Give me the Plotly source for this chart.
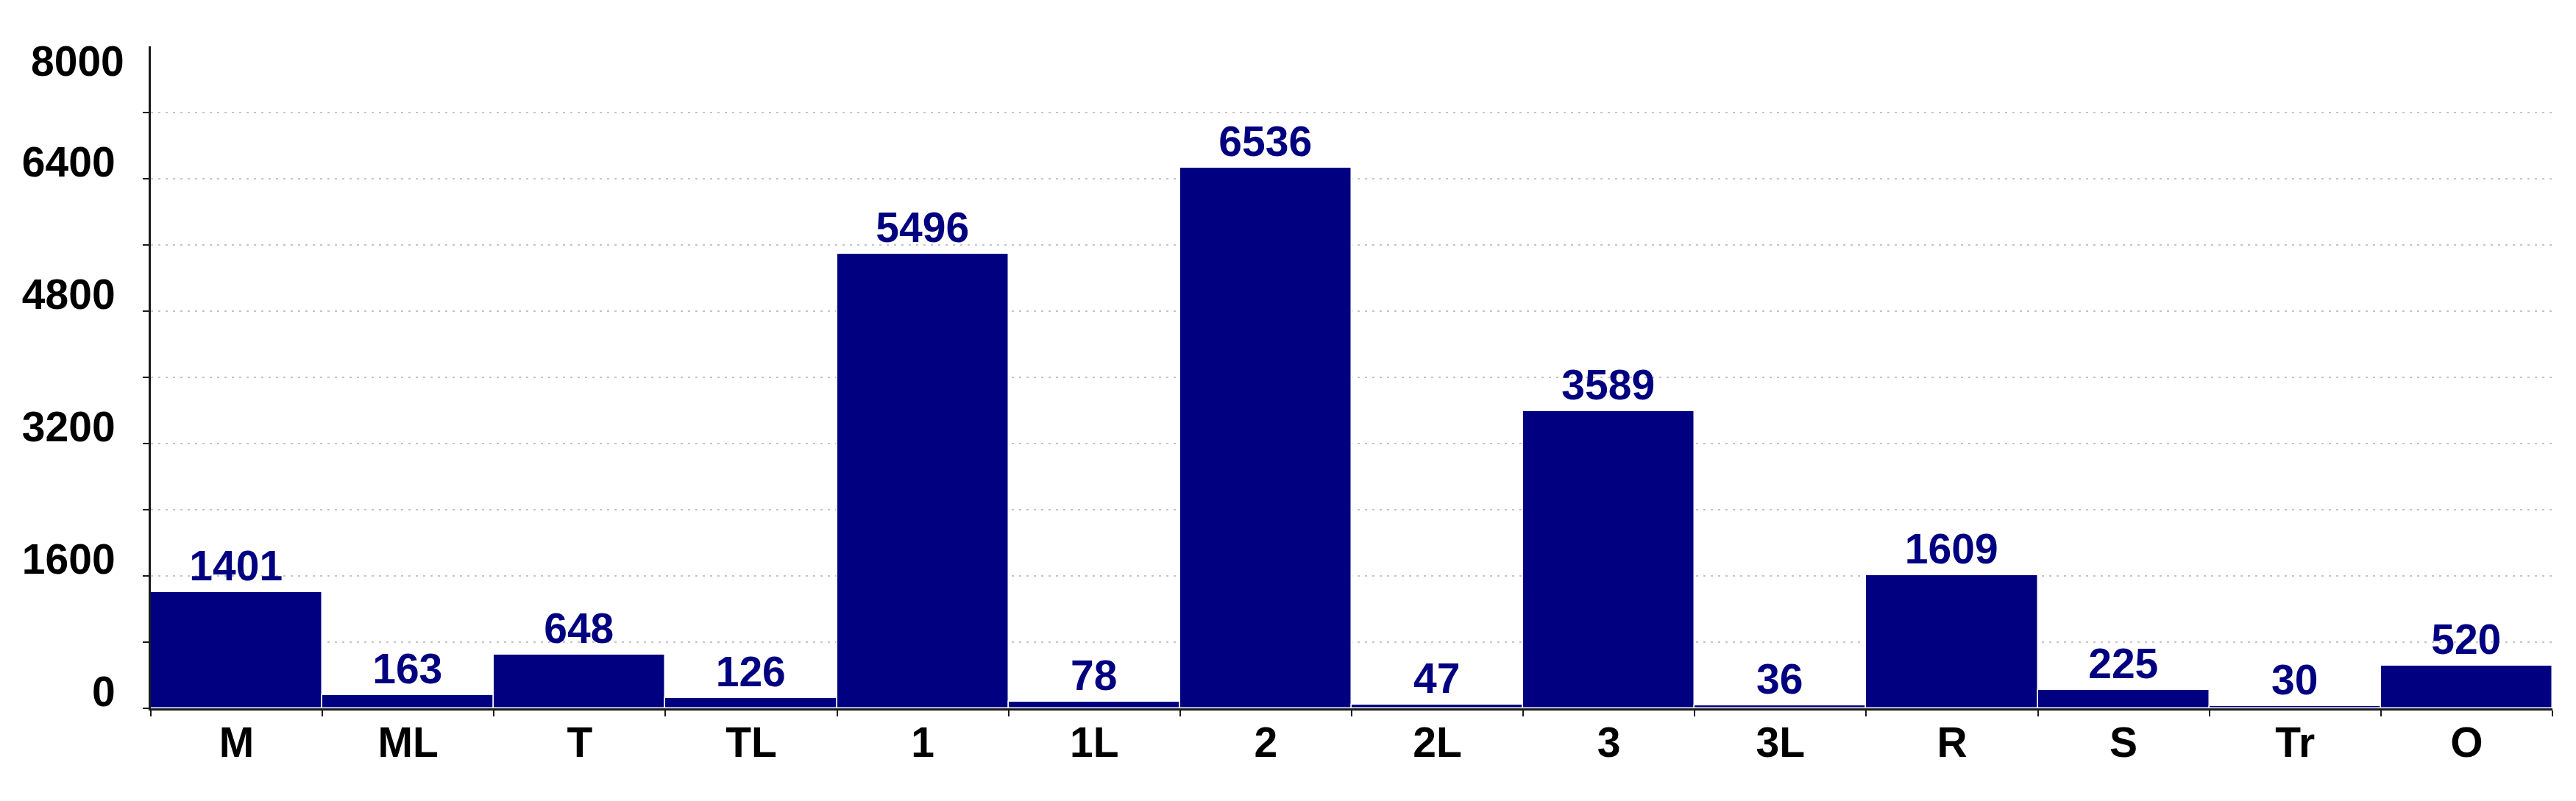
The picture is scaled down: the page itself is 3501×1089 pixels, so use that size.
import plotly.graph_objects as go

categories = ["M", "ML", "T", "TL", "1", "1L", "2", "2L", "3", "3L", "R", "S", "Tr", "O"]
counts = [1401, 163, 648, 126, 5496, 78, 6536, 47, 3589, 36, 1609, 225, 30, 520]
y_tick_values = [0, 800, 1600, 2400, 3200, 4000, 4800, 5600, 6400, 7200]
y_tick_labels = ["0", "", "1600", "", "3200", "", "4800", "", "6400", ""]
y_top = 8000

navy = "#000080"
font_name = "Liberation Sans, Arial, sans-serif"
fsize = 57

fig = go.Figure()
fig.add_trace(go.Bar(
    x=categories,
    y=counts,
    marker=dict(color=navy, line=dict(color="white", width=1.5)),
    text=[str(v) for v in counts],
    textposition="outside",
    textfont=dict(family=font_name, size=fsize, color=navy, weight="bold"),
    cliponaxis=False,
))

fig.update_layout(
    width=3501,
    height=1089,
    margin=dict(l=197, r=40, t=55, b=134),
    paper_bgcolor="white",
    plot_bgcolor="white",
    bargap=0,
    showlegend=False,
    font=dict(family=font_name, size=fsize, color="black", weight="bold"),
)

fig.update_xaxes(
    showline=True, linecolor="#1a1a1a", linewidth=3,
    ticks="outside", tickson="boundaries", ticklen=8, tickwidth=2, tickcolor="#1a1a1a",
    tickfont=dict(family=font_name, size=fsize, color="black", weight="bold"),
    ticklabelstandoff=-5,
    showgrid=False,
)

fig.update_yaxes(
    range=[0, y_top],
    tickvals=y_tick_values, ticktext=y_tick_labels,
    showline=True, linecolor="#1a1a1a", linewidth=3,
    ticks="outside", ticklen=8, tickwidth=2, tickcolor="#1a1a1a",
    tickfont=dict(family=font_name, size=fsize, color="black", weight="bold"),
    ticklabelshift=-23, ticklabelstandoff=26,
    showgrid=True, gridcolor="#c4c4c4", gridwidth=2, griddash="3px,7px",
    zeroline=False,
)

# top label sits just under its own line in the original
fig.add_annotation(
    xref="paper", x=0, xanchor="right", xshift=-34,
    yref="y", y=y_top, yshift=-20, yanchor="middle",
    text=str(y_top), showarrow=False,
    font=dict(family=font_name, size=fsize, color="black", weight="bold"),
)

fig.write_html("out.html")
